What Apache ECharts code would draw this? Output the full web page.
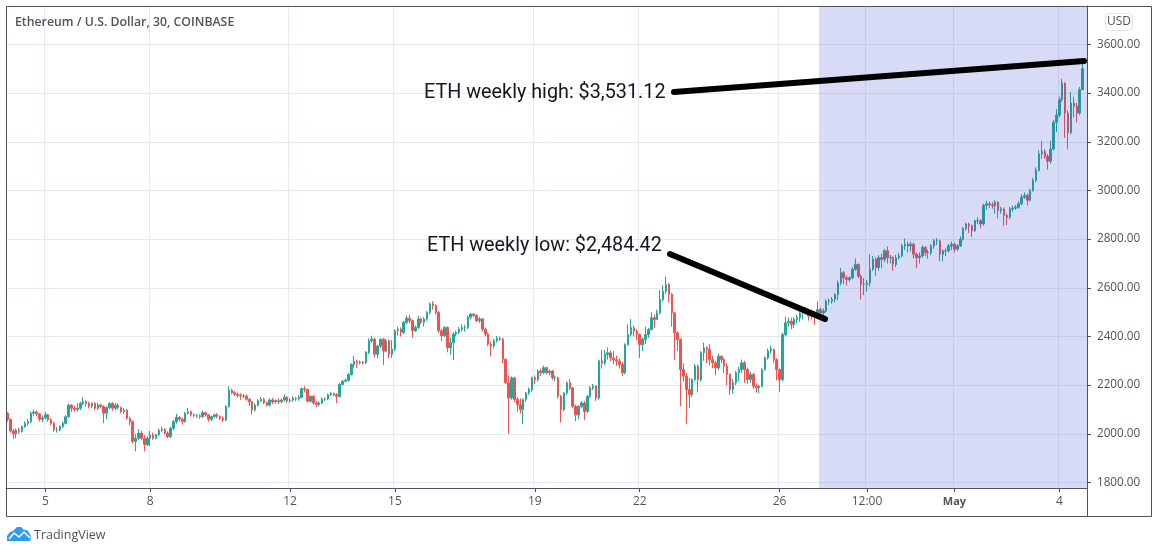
<!DOCTYPE html>
<html><head><meta charset="utf-8">
<script src="https://cdn.jsdelivr.net/npm/echarts@6/dist/echarts.min.js"></script>
<style>html,body{margin:0;background:#fff}#c{width:1158px;height:553px}</style></head>
<body><div id="c"></div>
<script>
// Two-hour candles; one line per day, starting 3 Apr 22:00
const opens = [
2085,2060,2012,2000,2015,2010,2030,2043,2050,2085,2090,2082,2060,
2065,2078,2058,2043,2016,2016,2030,2043,2070,2118,2105,2100,
2105,2125,2132,2125,2114,2125,2105,2118,2112,2085,2108,2125,
2105,2118,2108,2091,2098,2064,2050,1969,1982,2003,1982,1955,
1982,1996,1982,1996,2014,2019,2003,1989,2023,2050,2068,2060,
2050,2084,2091,2078,2074,2074,2071,2087,2078,2060,2071,2078,
2071,2064,2057,2112,2180,2169,2163,2159,2155,2155,2142,2132,
2098,2118,2136,2142,2128,2118,2139,2132,2136,2132,2139,2150,
2136,2139,2146,2143,2150,2185,2182,2134,2154,2127,2120,2127,
2143,2143,2161,2165,2161,2154,2203,2216,2220,2244,2285,2299,
2292,2295,2292,2334,2382,2389,2327,2361,2389,2340,2382,2327,
2348,2424,2430,2417,2458,2475,2465,2424,2437,2472,2458,2472,
2499,2534,2527,2499,2424,2403,2437,2354,2375,2410,2417,2430,
2437,2437,2479,2492,2486,2465,2472,2430,2410,2368,2361,2382,
2392,2389,2306,2210,2147,2230,2141,2120,2099,2141,2168,2182,
2230,2223,2258,2251,2272,2251,2258,2230,2230,2154,2099,2168,
2210,2189,2113,2078,2113,2127,2092,2154,2189,2196,2147,2300,
2290,2326,2333,2312,2305,2299,2285,2251,2367,2408,2436,2422,
2408,2367,2388,2408,2429,2477,2470,2497,2552,2586,2614,2573,
2497,2415,2388,2264,2237,2182,2161,2223,2278,2223,2333,2353,
2347,2305,2292,2271,2319,2305,2278,2244,2182,2210,2251,2264,
2292,2264,2223,2244,2196,2189,2196,2264,2312,2340,2347,2305,
2264,2223,2408,2456,2463,2449,2470,2477,2497,2497,2504,2484,
2497,2484,2511,2497,2504,2545,2545,2552,2572,2620,2662,2641,
2634,2641,2676,2696,2648,2614,2614,2620,2676,2717,2683,2724,
2717,2752,2724,2724,2696,2724,2731,2772,2779,2772,2779,2738,
2724,2731,2766,2745,2745,2772,2793,2793,2738,2752,2752,2772,
2779,2759,2772,2800,2844,2862,2855,2834,2876,2876,2862,2938,
2945,2941,2938,2952,2917,2924,2897,2890,2924,2927,2931,2945,
2972,2979,2960,3000,3041,3083,3150,3160,3140,3120,3170,3280,
3310,3373,3441,3318,3237,3359,3346,3318,3414
];
const closes = [
2060,2012,2000,2015,2010,2030,2043,2050,2085,2090,2082,2060,2065,
2078,2058,2043,2016,2016,2030,2043,2070,2118,2105,2100,2105,
2125,2132,2125,2114,2125,2105,2118,2112,2085,2108,2125,2105,
2118,2108,2091,2098,2064,2050,1969,1982,2003,1982,1955,1982,
1996,1982,1996,2014,2019,2003,1989,2023,2050,2068,2060,2050,
2084,2091,2078,2074,2074,2071,2087,2078,2060,2071,2078,2071,
2064,2057,2112,2180,2169,2163,2159,2155,2155,2142,2132,2098,
2118,2136,2142,2128,2118,2139,2132,2136,2132,2139,2150,2136,
2139,2146,2143,2150,2185,2182,2134,2154,2127,2120,2127,2143,
2143,2161,2165,2161,2154,2203,2216,2220,2244,2285,2299,2292,
2295,2292,2334,2382,2389,2327,2361,2389,2340,2382,2327,2348,
2424,2430,2417,2458,2475,2465,2424,2437,2472,2458,2472,2499,
2534,2527,2499,2424,2403,2437,2354,2375,2410,2417,2430,2437,
2437,2479,2492,2486,2465,2472,2430,2410,2368,2361,2382,2392,
2389,2306,2210,2147,2230,2141,2120,2099,2141,2168,2182,2230,
2223,2258,2251,2272,2251,2258,2230,2230,2154,2099,2168,2210,
2189,2113,2078,2113,2127,2092,2154,2189,2196,2147,2300,2290,
2326,2333,2312,2305,2299,2285,2251,2367,2408,2436,2422,2408,
2367,2388,2408,2429,2477,2470,2497,2552,2586,2614,2573,2497,
2415,2388,2264,2237,2182,2161,2223,2278,2223,2333,2353,2347,
2305,2292,2271,2319,2305,2278,2244,2182,2210,2251,2264,2292,
2264,2223,2244,2196,2189,2196,2264,2312,2340,2347,2305,2264,
2223,2408,2456,2463,2449,2470,2477,2497,2497,2504,2484,2497,
2484,2511,2497,2504,2545,2545,2552,2572,2620,2662,2641,2634,
2641,2676,2696,2648,2614,2614,2620,2676,2717,2683,2724,2717,
2752,2724,2724,2696,2724,2731,2772,2779,2772,2779,2738,2724,
2731,2766,2745,2745,2772,2793,2793,2738,2752,2752,2772,2779,
2759,2772,2800,2844,2862,2855,2834,2876,2876,2862,2938,2945,
2941,2938,2952,2917,2924,2897,2890,2924,2927,2931,2945,2972,
2979,2960,3000,3041,3083,3150,3160,3140,3120,3170,3280,3310,
3373,3441,3318,3237,3359,3346,3318,3414,3500
];
const lows = [
2050,2005,1978,1982,2000,2005,2025,2032,2045,2075,2072,2050,2048,
2060,2050,2036,2008,2005,2010,2024,2038,2065,2090,2092,2092,
2098,2118,2112,2105,2106,2098,2098,2104,2044,2060,2102,2095,
2098,2100,2085,2080,2058,2035,1960,1928,1975,1975,1928,1950,
1950,1975,1978,1990,2008,1998,1982,1982,2015,2042,2050,2038,
2046,2080,2072,2068,2066,2062,2066,2070,2050,2052,2066,2064,
2056,2048,2052,2108,2162,2155,2150,2140,2146,2136,2115,2080,
2092,2112,2130,2122,2112,2112,2122,2124,2122,2125,2132,2128,
2128,2132,2135,2136,2145,2170,2130,2128,2120,2110,2112,2122,
2135,2138,2155,2155,2126,2148,2198,2212,2215,2240,2272,2270,
2285,2285,2286,2328,2375,2315,2310,2352,2282,2335,2310,2312,
2340,2405,2400,2410,2450,2455,2395,2418,2432,2450,2440,2465,
2490,2510,2490,2415,2380,2398,2335,2325,2303,2400,2410,2420,
2420,2430,2470,2478,2458,2455,2420,2400,2360,2318,2352,2375,
2380,2290,2205,2000,2140,2130,2090,2085,2040,2132,2160,2172,
2205,2215,2238,2245,2244,2240,2222,2218,2145,2047,2092,2160,
2180,2105,2051,2060,2105,2058,2085,2148,2180,2135,2140,2268,
2282,2305,2298,2285,2280,2268,2238,2245,2362,2400,2400,2385,
2312,2340,2370,2395,2425,2435,2468,2490,2545,2575,2540,2440,
2303,2340,2114,2215,2040,2107,2150,2218,2170,2215,2300,2290,
2280,2270,2240,2262,2290,2250,2200,2160,2165,2200,2215,2250,
2210,2205,2210,2185,2170,2166,2190,2260,2305,2330,2290,2220,
2171,2215,2400,2440,2430,2435,2455,2460,2470,2490,2465,2470,
2448,2478,2490,2488,2498,2530,2535,2540,2550,2610,2615,2610,
2625,2635,2670,2640,2552,2570,2585,2605,2670,2650,2670,2680,
2705,2700,2700,2670,2685,2715,2725,2755,2745,2750,2720,2681,
2700,2725,2730,2720,2735,2760,2775,2710,2708,2730,2745,2755,
2745,2752,2768,2795,2835,2825,2808,2830,2862,2845,2855,2920,
2928,2925,2905,2885,2905,2855,2858,2882,2912,2920,2925,2940,
2965,2938,2955,2995,3035,3078,3130,3130,3085,3110,3165,3240,
3300,3365,3216,3169,3230,3300,3280,3310,3450
];
const highs = [
2090,2062,2020,2022,2025,2034,2052,2060,2092,2100,2096,2086,2075,
2090,2082,2064,2050,2028,2036,2050,2076,2124,2122,2115,2125,
2132,2150,2138,2132,2130,2130,2128,2124,2118,2112,2130,2130,
2126,2125,2112,2105,2102,2070,2055,2000,2018,2012,1995,1990,
2012,2005,2000,2022,2030,2024,2010,2028,2056,2082,2072,2066,
2090,2106,2096,2084,2082,2080,2096,2092,2082,2075,2082,2085,
2076,2072,2118,2195,2186,2176,2170,2166,2164,2162,2148,2136,
2125,2142,2152,2148,2132,2146,2148,2142,2146,2145,2162,2155,
2148,2155,2152,2158,2190,2196,2186,2158,2160,2134,2134,2150,
2150,2166,2172,2170,2168,2210,2222,2228,2250,2290,2320,2305,
2302,2300,2340,2392,2403,2395,2365,2392,2394,2390,2388,2385,
2430,2440,2438,2464,2486,2488,2470,2445,2485,2478,2480,2505,
2540,2545,2532,2505,2430,2442,2442,2395,2418,2424,2440,2450,
2448,2486,2497,2496,2492,2480,2476,2436,2416,2380,2390,2402,
2400,2394,2310,2240,2236,2235,2150,2146,2146,2172,2190,2235,
2240,2265,2268,2280,2276,2264,2262,2240,2235,2160,2172,2215,
2225,2192,2120,2118,2135,2135,2160,2196,2205,2200,2305,2345,
2345,2355,2342,2340,2320,2310,2295,2372,2450,2472,2445,2430,
2412,2395,2440,2436,2500,2490,2510,2590,2610,2645,2620,2578,
2500,2420,2392,2290,2250,2230,2228,2288,2285,2340,2375,2360,
2370,2320,2300,2330,2322,2312,2290,2248,2225,2258,2275,2305,
2300,2272,2255,2250,2208,2202,2270,2318,2350,2362,2350,2310,
2268,2415,2482,2478,2478,2480,2490,2510,2515,2520,2510,2510,
2505,2545,2520,2515,2552,2556,2562,2578,2630,2682,2670,2650,
2648,2685,2720,2700,2655,2640,2632,2738,2730,2725,2735,2740,
2760,2770,2735,2730,2735,2745,2780,2803,2790,2790,2785,2745,
2745,2775,2772,2755,2780,2800,2805,2798,2758,2762,2780,2790,
2785,2780,2812,2850,2868,2868,2860,2880,2890,2882,2945,2958,
2955,2952,2960,2956,2932,2930,2905,2932,2938,2940,2955,2985,
2992,2988,3008,3052,3095,3165,3203,3170,3150,3205,3290,3335,
3385,3459,3445,3330,3405,3385,3360,3425,3531
];
const tickCategories = ['04-05 00:00','04-08 00:00','04-12 00:00','04-15 00:00','04-19 00:00','04-22 00:00','04-26 00:00','04-28 12:00','05-01 00:00','05-04 00:00'];
const tickLabels = ['5','8','12','15','19','22','26','12:00','May','4'];
const priceTicks = [1800,2000,2200,2400,2600,2800,3000,3200,3400,3600];
const noteHigh = 'ETH weekly high: $3,531.12';
const noteLow = 'ETH weekly low: $2,484.42';
const title = 'Ethereum / U.S. Dollar, 30, COINBASE';

// category names: one per two hours, plus one empty slot at the right edge
const pad = n => String(n).padStart(2,'0');
const categories = [];
for (let i = 0; i <= closes.length; i++) {
  const d = new Date(Date.UTC(2021,3,3,22) + i*2*3600*1000);
  categories.push(pad(d.getUTCMonth()+1)+'-'+pad(d.getUTCDate())+' '+pad(d.getUTCHours())+':00');
}
const candles = closes.map((c,i)=>[opens[i],c,lows[i],highs[i]]);
const isTick = (i,v)=>tickCategories.includes(v);
const INK='#50535e';
const chart = echarts.init(document.getElementById('c'),null,{renderer:'canvas'});
chart.setOption({
  animation:false,
  backgroundColor:'#fff',
  grid:{left:6,right:71,top:6,bottom:65,containLabel:false},
  xAxis:{type:'category',data:categories,boundaryGap:true,
    axisLine:{lineStyle:{color:INK,width:1}},
    axisTick:{show:true,alignWithLabel:true,interval:isTick,length:4,lineStyle:{color:INK}},
    splitLine:{show:true,interval:isTick,lineStyle:{color:'#e2ebf3',width:1}},
    axisLabel:{interval:isTick,margin:8,color:INK,fontFamily:'Open Sans',fontSize:12,hideOverlap:false,
      formatter:v=>{const k=tickCategories.indexOf(v);if(k<0)return '';return tickLabels[k]==='May'?'{b|May}':tickLabels[k];},
      rich:{b:{fontWeight:'bold',color:INK,fontFamily:'Open Sans',fontSize:11}}}},
  yAxis:{type:'value',position:'right',min:1777.4,max:3758,scale:true,
    axisLine:{show:true,lineStyle:{color:INK,width:1}},
    axisTick:{show:true,length:4,customValues:priceTicks,lineStyle:{color:INK}},
    splitLine:{show:true,lineStyle:{color:'#e2ebf3',width:1}},
    axisLabel:{customValues:priceTicks,margin:10,padding:[0,0,4,0],color:INK,fontFamily:'Open Sans',fontSize:11.7,formatter:v=>v.toFixed(2)}},
  series:[{type:'candlestick',data:candles,barWidth:2,
    itemStyle:{color:'#26a69a',color0:'#ef5350',borderColor:'#26a69a',borderColor0:'#ef5350',borderWidth:1}}],
  graphic:[
    {type:'rect',z:50,shape:{x:819,y:6,width:268,height:482},style:{fill:'rgba(55,75,205,0.2)'}},
    {type:'rect',z:55,shape:{x:6.5,y:6.5,width:1145,height:510},style:{fill:'none',stroke:INK,lineWidth:1}},
    {type:'line',z:55,shape:{x1:1087.5,y1:488,x2:1087.5,y2:516},style:{stroke:INK,lineWidth:1}},
    {type:'line',z:60,shape:{x1:674,y1:92,x2:1084,y2:61},style:{stroke:'#000',lineWidth:6,lineCap:'round'}},
    {type:'line',z:60,shape:{x1:670,y1:254,x2:825,y2:319},style:{stroke:'#000',lineWidth:6,lineCap:'round'}},
    {type:'text',z:60,style:{x:424,y:93,text:noteHigh,fill:'#131722',font:'19.8px Roboto',textVerticalAlign:'middle'}},
    {type:'text',z:60,style:{x:427,y:246,text:noteLow,fill:'#131722',font:'19.8px Roboto',textVerticalAlign:'middle'}},
    {type:'text',z:60,style:{x:15,y:22,text:title,fill:INK,font:'600 12.3px "Open Sans"',textVerticalAlign:'middle'}},
    {type:'rect',z:60,shape:{x:1105.5,y:13.5,width:27,height:17,r:4},style:{fill:'#fff',stroke:'#e0e3eb',lineWidth:1}},
    {type:'text',z:61,style:{x:1119,y:22,text:'USD',fill:INK,font:'12px "Open Sans"',textAlign:'center',textVerticalAlign:'middle'}},
    {type:'polygon',z:60,shape:{points:[[7,541],[7,536],[10,532],[13,531],[17,527],[21,527],[24,530],[27,530],[30,534],[31,538],[30,541]]},style:{fill:'#2d9cf0'}},
    {type:'polyline',z:61,shape:{points:[[9,539],[14,533],[19,537],[24,532],[30,538]]},style:{stroke:'#fff',lineWidth:1.5,fill:'none'}},
    {type:'text',z:60,style:{x:34,y:535,text:'TradingView',fill:INK,font:'12.5px "Open Sans"',textVerticalAlign:'middle'}}
  ]
});
</script></body></html>
